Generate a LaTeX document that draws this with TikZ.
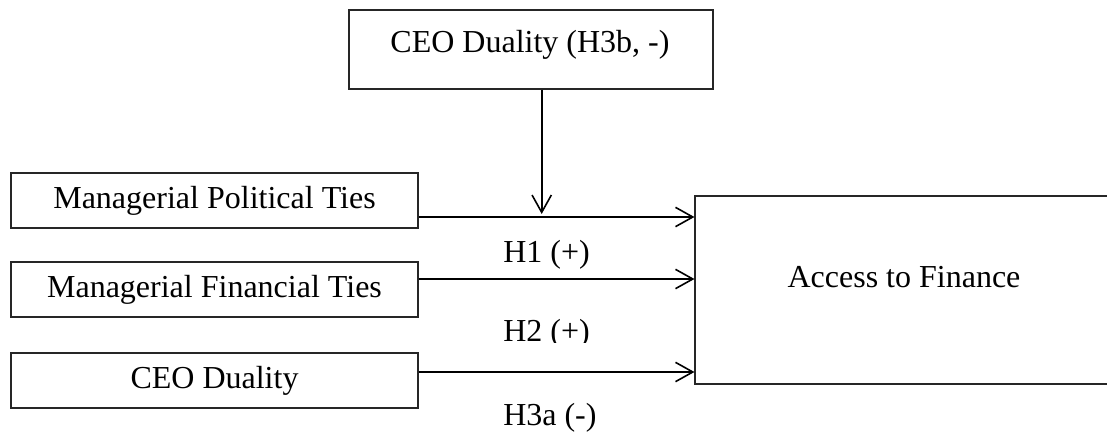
\documentclass[tikz,border=0pt]{standalone}
\usepackage{fontspec}
\setmainfont{Liberation Serif}
\usetikzlibrary{arrows.meta}
\begin{document}
\begin{tikzpicture}[x=0.75pt,y=-0.75pt,
  font=\fontsize{24pt}{28pt}\selectfont,
  boxstyle/.style={draw=black!85, line width=0.8pt, inner sep=0pt, fill=white},
  arr/.style={draw=black, line width=1.35pt, -{Straight Barb[length=13pt, width=14.5pt, line width=1.2pt]}},
  lbl/.style={anchor=base west, inner sep=0pt}]
\useasboundingbox (0,0) rectangle (1107,432);
\clip (0,0) rectangle (1107,432);
% boxes
\node[boxstyle, minimum width=407*0.75pt, minimum height=55*0.75pt] (mpt) at (214.5,200.5) {Managerial Political Ties};
\node[boxstyle, minimum width=407*0.75pt, minimum height=55*0.75pt] (mft) at (214.5,289.5) {Managerial Financial Ties};
\node[boxstyle, minimum width=407*0.75pt, minimum height=55*0.75pt] (ceo) at (214.5,380.5) {CEO Duality};
\node[boxstyle, minimum width=364*0.75pt, minimum height=79*0.75pt] (dual) at (531,49.5) {};
\node[inner sep=0pt] (dualtxt) at (530,45) {CEO Duality (H3b, -)};
\node[boxstyle, minimum width=420*0.75pt, minimum height=188*0.75pt] (atf) at (905,290) {};
\node[inner sep=0pt] (atftxt) at (904,277) {Access to Finance};
% connectors
\coordinate (meet) at (541.7,214);
\draw[arr] (mpt.east |- 0,217) -- (atf.west |- 0,217);
\draw[arr] (mft.east |- 0,279) -- (atf.west |- 0,279);
\draw[arr] (ceo.east |- 0,372) -- (atf.west |- 0,372);
\draw[arr] (dual.south -| meet) -- (meet);
% labels
\node[lbl] (h1) at (503,262) {H1 (+)};
\begin{scope}
\clip (400,300) rectangle (690,342);
\node[lbl] (h2) at (503,341) {H2 (+)};
\end{scope}
\node[lbl] (h3a) at (503,425) {H3a (-)};
\end{tikzpicture}
\end{document}
